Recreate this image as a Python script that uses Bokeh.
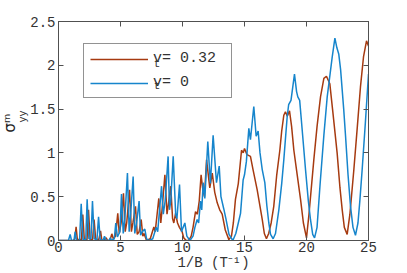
from bokeh.plotting import figure
from bokeh.models import Label, Legend, LegendItem, FixedTicker, LinearAxis, Range1d, Title
from bokeh.embed import file_html
from bokeh.resources import INLINE

# ---------------- data ----------------
x_ticks = [0, 5, 10, 15, 20, 25]
y_ticks = [0, 0.5, 1, 1.5, 2, 2.5]
y_tick_labels = ["0", "0.5", "1", "1.5", "2", "2.5"]

# v_t = 0.32 (red)
red_pts = [(0, 0), (1.2, 0), (1.32, 0.02), (1.42, 0.155), (1.52, 0.01), (1.85, 0.01), (1.96, 0.295),
           (2.08, 0.01), (2.3, 0.01), (2.42, 0.35), (2.55, 0.01), (2.75, 0.01), (2.87, 0.24), (3.0, 0.01),
           (3.25, 0.01), (3.39, 0.11), (3.5, 0.0), (3.7, 0.01), (3.85, 0.03), (3.95, 0.0), (4.15, 0.0),
           (4.3, 0.076), (4.42, 0.02), (4.6, 0.05), (4.78, 0.31), (4.9, 0.08), (5.05, 0.2), (5.24, 0.54),
           (5.38, 0.1), (5.5, 0.2), (5.73, 0.58), (5.88, 0.1), (6.0, 0.2), (6.21, 0.39), (6.35, 0.07),
           (6.5, 0.1), (6.67, 0.24), (6.8, 0.05), (6.9, 0.08), (7.1, 0.0), (7.4, 0.02), (7.69, 0.155),
           (7.8, 0.1), (8.09, 0.48), (8.25, 0.2), (8.35, 0.35), (8.58, 0.75), (8.75, 0.3), (8.85, 0.4),
           (9.05, 0.62), (9.2, 0.25), (9.3, 0.2), (9.44, 0.31), (9.6, 0.2), (9.75, 0.15), (9.97, 0.1),
           (10.1, 0.03), (10.3, 0.0), (10.5, 0.0), (10.7, 0.05), (10.85, 0.15), (11.05, 0.33), (11.2, 0.3),
           (11.35, 0.45), (11.5, 0.75), (11.62, 0.6), (11.77, 0.5), (11.94, 0.92), (12.08, 0.75),
           (12.2, 0.6), (12.4, 0.77), (12.6, 0.55), (12.8, 0.43), (13.0, 0.35), (13.2, 0.3), (13.45, 0.12),
           (13.74, 0.01), (13.95, 0.05), (14.1, 0.2), (14.27, 0.47), (14.5, 0.65), (14.76, 1.03),
           (14.9, 1.0), (15.0, 1.05), (15.2, 0.98), (15.48, 0.96), (15.7, 0.8), (16.02, 0.58),
           (16.43, 0.24), (16.6, 0.08), (16.77, 0.02), (16.95, 0.08), (17.15, 0.2), (17.36, 0.39),
           (17.6, 0.75), (17.85, 1.03), (18.0, 1.25), (18.17, 1.43), (18.3, 1.47), (18.45, 1.42),
           (18.63, 1.48), (18.8, 1.3), (18.98, 1.03), (19.25, 0.75), (19.52, 0.47), (19.75, 0.2),
           (20.0, 0.03), (20.2, 0.3), (20.59, 0.92), (20.85, 1.3), (21.13, 1.64), (21.4, 1.85),
           (21.61, 1.875), (21.88, 1.79), (22.1, 1.5), (22.47, 1.0), (22.7, 0.6), (22.88, 0.35),
           (23.05, 0.15), (23.28, 0.07), (23.5, 0.3), (23.82, 0.81), (24.1, 1.3), (24.35, 1.75),
           (24.6, 2.1), (24.84, 2.28), (25.0, 2.22)]

# v_t = 0 (blue)
blue_pts = [(0, 0), (0.8, 0), (0.94, 0.07), (1.05, 0), (1.25, 0), (1.34, 0.1), (1.45, 0), (1.7, 0),
            (1.83, 0.42), (1.97, 0.01), (2.2, 0.01), (2.31, 0.47), (2.45, 0.02), (2.62, 0.02), (2.74, 0.45),
            (2.88, 0.02), (3.1, 0.01), (3.23, 0.27), (3.36, 0.01), (3.6, 0.0), (3.71, 0.05), (3.82, 0),
            (4.08, 0), (4.17, 0.03), (4.28, 0), (4.5, 0.02), (4.62, 0.2), (4.75, 0.04), (4.95, 0.1),
            (5.08, 0.53), (5.22, 0.08), (5.35, 0.25), (5.56, 0.77), (5.7, 0.1), (5.82, 0.3), (6.02, 0.73),
            (6.15, 0.08), (6.3, 0.2), (6.5, 0.45), (6.62, 0.06), (6.75, 0.1), (6.96, 0.13), (7.1, 0.02),
            (7.3, 0.0), (7.6, 0.02), (7.88, 0.15), (8.0, 0.1), (8.31, 0.62), (8.45, 0.3), (8.6, 0.45),
            (8.84, 0.96), (8.95, 0.35), (9.05, 0.45), (9.25, 0.96), (9.45, 0.3), (9.55, 0.25), (9.76, 0.64),
            (9.92, 0.1), (10.05, 0.15), (10.19, 0.2), (10.35, 0.05), (10.6, 0.0), (10.85, 0.05),
            (11.0, 0.15), (11.18, 0.24), (11.3, 0.2), (11.45, 0.45), (11.55, 0.35), (11.67, 0.66),
            (11.8, 0.48), (12.04, 1.13), (12.25, 0.65), (12.47, 1.2), (12.74, 0.66), (12.96, 0.85),
            (13.1, 0.5), (13.33, 0.36), (13.5, 0.25), (13.75, 0.07), (14.06, 0.0), (14.3, 0.08),
            (14.5, 0.2), (14.68, 0.31), (14.89, 0.69), (15.0, 0.75), (15.15, 0.9), (15.35, 1.28),
            (15.48, 1.15), (15.75, 1.53), (15.94, 1.19), (16.1, 1.25), (16.25, 1.0), (16.43, 0.81),
            (16.64, 0.66), (16.8, 0.4), (16.96, 0.2), (17.1, 0.07), (17.31, 0.02), (17.5, 0.08),
            (17.77, 0.35), (18.0, 0.65), (18.17, 0.92), (18.44, 1.41), (18.56, 1.55), (18.75, 1.6),
            (19.03, 1.9), (19.2, 1.7), (19.3, 1.64), (19.45, 1.6), (19.6, 1.35), (19.92, 0.81),
            (20.15, 0.45), (20.32, 0.24), (20.5, 0.07), (20.65, 0.03), (20.85, 0.15), (21.1, 0.65),
            (21.4, 1.2), (21.67, 1.64), (22.07, 2.09), (22.29, 2.31), (22.45, 2.2), (22.6, 2.13),
            (22.75, 1.95), (23.0, 1.5), (23.15, 1.19), (23.35, 0.75), (23.55, 0.39), (23.75, 0.15),
            (23.95, 0.06), (24.15, 0.2), (24.3, 0.45), (24.49, 0.81), (24.75, 1.35), (25.0, 1.9)]

x_red = [a for a, b in red_pts]
y_red = [b for a, b in red_pts]
x_blue = [a for a, b in blue_pts]
y_blue = [b for a, b in blue_pts]

RED = "#A63A10"
BLUE = "#1685CC"
AX = "#505050"
TXT = "#333333"
FONT = "Liberation Mono"

p = figure(width=407, height=273, x_range=Range1d(0, 25), y_range=Range1d(0, 2.5),
           output_backend="svg", toolbar_location=None,
           min_border_left=58, min_border_right=39, min_border_top=21, min_border_bottom=32)
p.xgrid.visible = False
p.ygrid.visible = False
p.outline_line_color = AX
p.background_fill_color = "white"
p.border_fill_color = "white"

for ax in (p.xaxis[0], p.yaxis[0]):
    ax.axis_line_color = AX
    ax.major_tick_line_color = AX
    ax.major_tick_in = 5
    ax.major_tick_out = 0
    ax.minor_tick_in = 0
    ax.minor_tick_out = 0
    ax.major_label_text_font = FONT
    ax.major_label_text_font_size = "14px"
    ax.major_label_text_color = TXT
p.xaxis[0].ticker = FixedTicker(ticks=x_ticks)
p.yaxis[0].ticker = FixedTicker(ticks=y_ticks)
p.yaxis[0].major_label_overrides = {t: s for t, s in zip(y_ticks, y_tick_labels)}
p.xaxis[0].major_label_standoff = 1
p.yaxis[0].major_label_standoff = 3
p.yaxis[0].axis_label_standoff = 0

# x-axis label
p.xaxis[0].axis_label = "1/B (T\u207b\u00b9)"
p.xaxis[0].axis_label_text_font = FONT
p.xaxis[0].axis_label_text_font_size = "14px"
p.xaxis[0].axis_label_text_font_style = "normal"
p.xaxis[0].axis_label_text_color = TXT
p.xaxis[0].axis_label_standoff = 0

# box ticks on top and right
for loc, ticks in (("above", x_ticks), ("right", y_ticks)):
    a = LinearAxis(ticker=FixedTicker(ticks=ticks), major_label_text_font_size="1px",
                   major_label_text_color=None,
                   major_tick_in=5, major_tick_out=0, minor_tick_in=0, minor_tick_out=0,
                   major_label_standoff=0, axis_line_color=AX, major_tick_line_color=AX)
    p.add_layout(a, loc)

# y-axis label sigma^m_yy built from two rotated titles (subscript column nearest the axis)
# align="left" on a left title: offset = distance of the text start above the frame bottom
p.add_layout(Title(text="yy", align="left", offset=118, standoff=-2, text_font=FONT,
                   text_font_size="10px", text_font_style="normal", text_color=TXT), "left")
p.add_layout(Title(text="σ\u1d50", align="left", offset=108, standoff=-5, text_font="DejaVu Sans",
                   text_font_size="15px", text_font_style="normal", text_color="#222222"), "left")

r_red = p.line(x_red, y_red, line_color=RED, line_width=1.5)
r_blue = p.line(x_blue, y_blue, line_color=BLUE, line_width=1.5)

# subscripts "t" in the legend (drawn beneath a transparent legend)
for yy in (2.02, 1.76):
    p.add_layout(Label(x=7.95, y=yy, text="t", text_font=FONT, text_font_size="11px",
                       text_color=TXT, text_align="center", text_baseline="middle"))

legend = Legend(items=[LegendItem(label="v= 0.32 ", renderers=[r_red]),
                       LegendItem(label="v= 0", renderers=[r_blue])],
                location=(25, 142), margin=0, padding=6, spacing=7,
                glyph_width=58, glyph_height=16, label_height=16, label_standoff=5,
                label_text_font=FONT, label_text_font_size="15px", label_text_color=TXT,
                border_line_color="#262626", border_line_width=1, background_fill_alpha=0)
p.add_layout(legend)

open("out.html", "w").write(file_html(p, INLINE))
